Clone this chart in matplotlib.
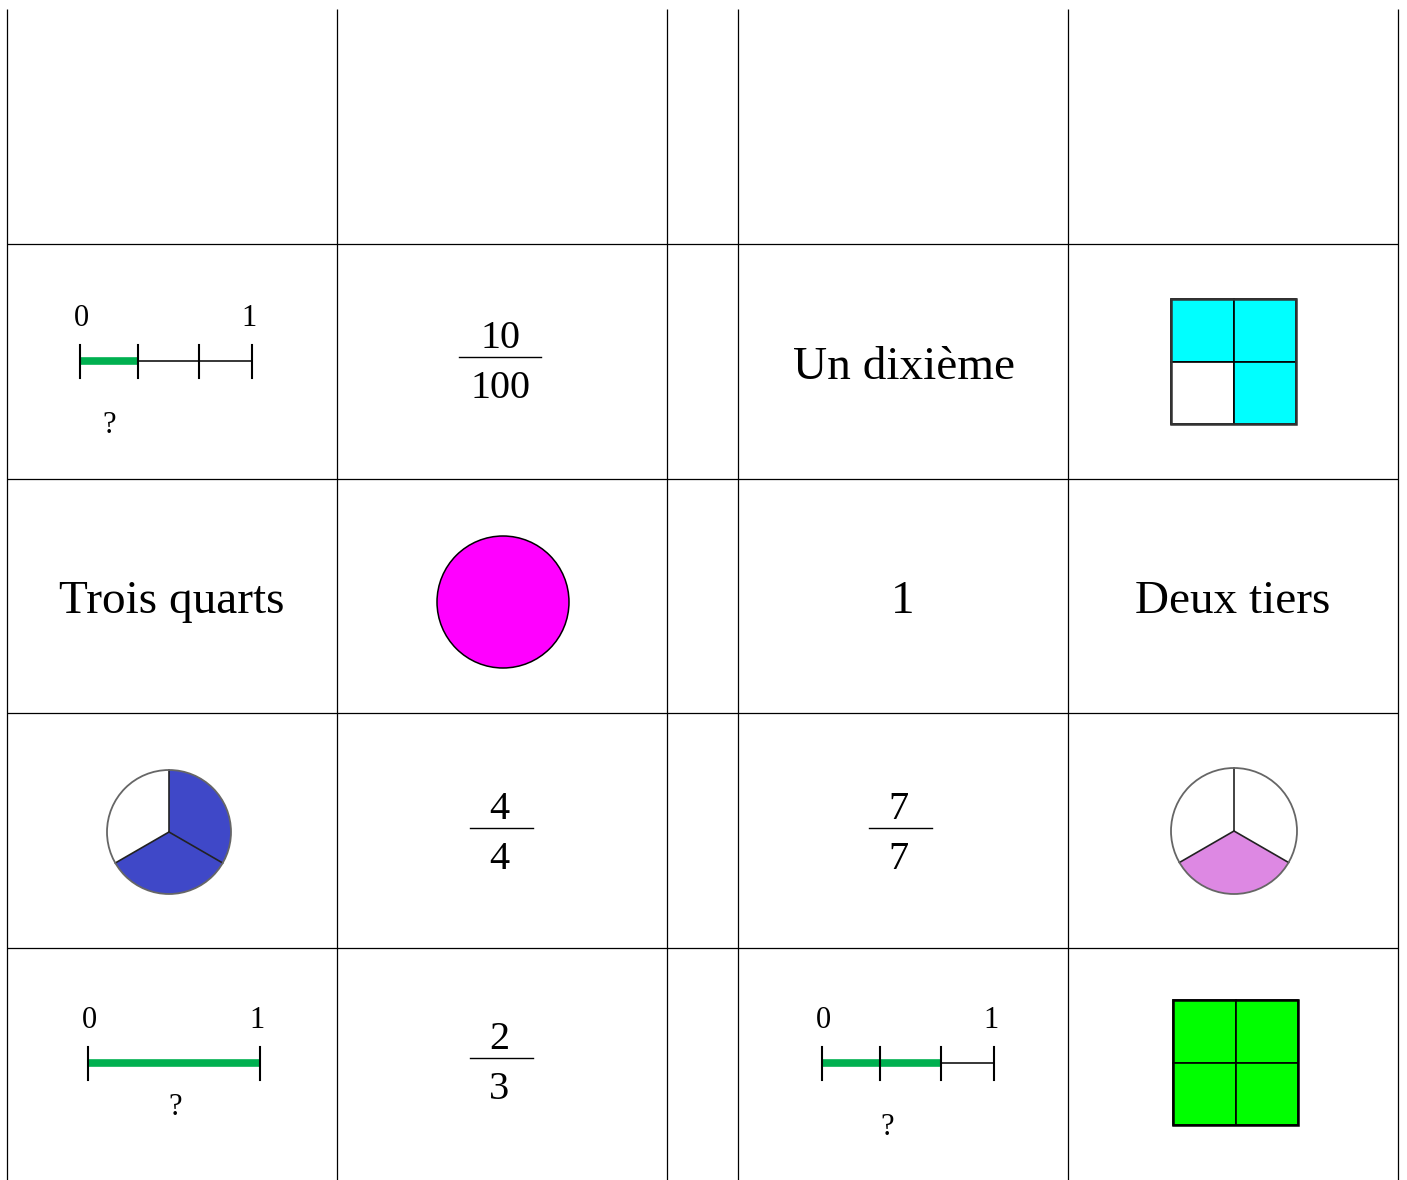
import math
import matplotlib
matplotlib.use('Agg')
import matplotlib.pyplot as plt
from matplotlib.patches import Circle, Wedge, Rectangle

plt.rcParams['font.family'] = ['Liberation Serif', 'DejaVu Serif']

# ---------------- data (card contents) ----------------
word_labels = ['Un dixième', 'Trois quarts', '1', 'Deux tiers']
frac_num = ['10', '4', '7', '2']
frac_den = ['100', '4', '7', '3']
numline_ticks = [[0, 0.34, 0.69, 1], [0, 1], [0, 0.34, 0.69, 1]]
numline_shaded_to = [1, 1, 2]
numline_end_labels = ['0', '1']
numline_unknown = '?'
pie_parts = [3, 3]
pie_shaded = [2, 1]
square_quarters = [[1, 1, 0, 1], [1, 1, 1, 1]]   # TL, TR, BL, BR

# ---------------- layout (pixel positions) ----------------
W, H = 1407, 1180
col_edges = [7.2, 337.2, 667.2, 738.2, 1068.2, 1398.2]
row_edges = [244, 479, 713, 948]
grid_top = 9

word_pos = [(904, 379), (172, 613), (903, 613), (1233, 613)]
frac_pos = [(500, 357, 41), (501.5, 828, 31.5), (900.5, 828, 31.5), (501.5, 1058, 31.5)]
frac_text_dx = [0, -2, -2, -2]
nl_x0 = [80, 88, 822]
nl_y = [361, 1063, 1063]
nl_len = 172
nl_q_dx = [0, 1, 6]
nl_q_dy = [72, 52, 72]
pie_pos = [(169, 832, 62), (1234, 831, 63)]
pie_colors = ['#3f48c8', '#dd88e3']
circle_pos = (503, 602, 66)
square_pos = [(1171, 299, 125), (1173, 1000, 125)]
square_colors = ['#00ffff', '#00ff00']
square_edges = ['#333333', '#000000']

fig = plt.figure(figsize=(W / 100, H / 100), dpi=100)
ax = fig.add_axes([0, 0, 1, 1])
ax.set_xlim(0, W)
ax.set_ylim(H, 0)
ax.axis('off')

# grid
for x in col_edges:
    ax.plot([x, x], [grid_top, H], color='black', lw=0.9, solid_capstyle='butt')
for y in row_edges:
    ax.plot([col_edges[0], col_edges[-1]], [y, y], color='black', lw=0.9, solid_capstyle='butt')

# word cards
for lab, (x, y) in zip(word_labels, word_pos):
    ax.text(x, y, lab, fontsize=34, ha='center', va='baseline')

# fractions
for n, d, (x, y, hw), dx in zip(frac_num, frac_den, frac_pos, frac_text_dx):
    ax.plot([x - hw, x + hw], [y, y], color='black', lw=1.0)
    ax.text(x + dx, y - 9, n, fontsize=29, ha='center', va='baseline')
    ax.text(x + dx, y + 41, d, fontsize=29, ha='center', va='baseline')

# number lines
for ticks, k, x0, y, qdx, qdy in zip(numline_ticks, numline_shaded_to, nl_x0, nl_y,
                                     nl_q_dx, nl_q_dy):
    xs = [x0 + t * nl_len for t in ticks]
    ax.plot([xs[0], xs[-1]], [y, y], color='black', lw=1.1, zorder=2)
    ax.plot([xs[0], xs[k]], [y, y], color='#00b050', lw=5.5, solid_capstyle='butt', zorder=3)
    for xt in xs:
        ax.plot([xt, xt], [y - 16, y + 17], color='black', lw=1.5, zorder=4)
    ax.text(xs[0] + 1, y - 35, numline_end_labels[0], fontsize=22, ha='center', va='baseline')
    ax.text(xs[-1] - 3, y - 35, numline_end_labels[1], fontsize=22, ha='center', va='baseline')
    ax.text((xs[0] + xs[k]) / 2 + qdx, y + qdy, numline_unknown, fontsize=22,
            ha='center', va='baseline')

# pies (visual angles, y axis inverted -> negate)
start_vis = 210
for parts, shaded, (cx, cy, r), col in zip(pie_parts, pie_shaded, pie_pos, pie_colors):
    step = 360 / parts
    a1 = start_vis
    a2 = start_vis + shaded * step
    ax.add_patch(Circle((cx, cy), r, facecolor='white', edgecolor='none', zorder=2))
    ax.add_patch(Wedge((cx, cy), r, -a2, -a1, facecolor=col, edgecolor='none', zorder=3))
    for i in range(parts):
        ang = math.radians(-(start_vis + i * step))
        ax.plot([cx, cx + r * math.cos(ang)], [cy, cy + r * math.sin(ang)],
                color='#222222', lw=1.2, zorder=4)
    ax.add_patch(Circle((cx, cy), r, facecolor='none', edgecolor='#666666', lw=1.3, zorder=5))

# whole circle
cx, cy, r = circle_pos
ax.add_patch(Circle((cx, cy), r, facecolor='#ff00ff', edgecolor='black', lw=1.1, zorder=3))

# squares
for q, (x0, y0, s), col, ec in zip(square_quarters, square_pos, square_colors, square_edges):
    h = s / 2
    cells = [(x0, y0), (x0 + h, y0), (x0, y0 + h), (x0 + h, y0 + h)]
    for filled, (qx, qy) in zip(q, cells):
        ax.add_patch(Rectangle((qx, qy), h, h, facecolor=col if filled else 'white',
                               edgecolor='black', lw=1.2, zorder=3))
    ax.add_patch(Rectangle((x0, y0), s, s, facecolor='none', edgecolor=ec, lw=1.8, zorder=4))

fig.savefig('out.png', dpi=100)
